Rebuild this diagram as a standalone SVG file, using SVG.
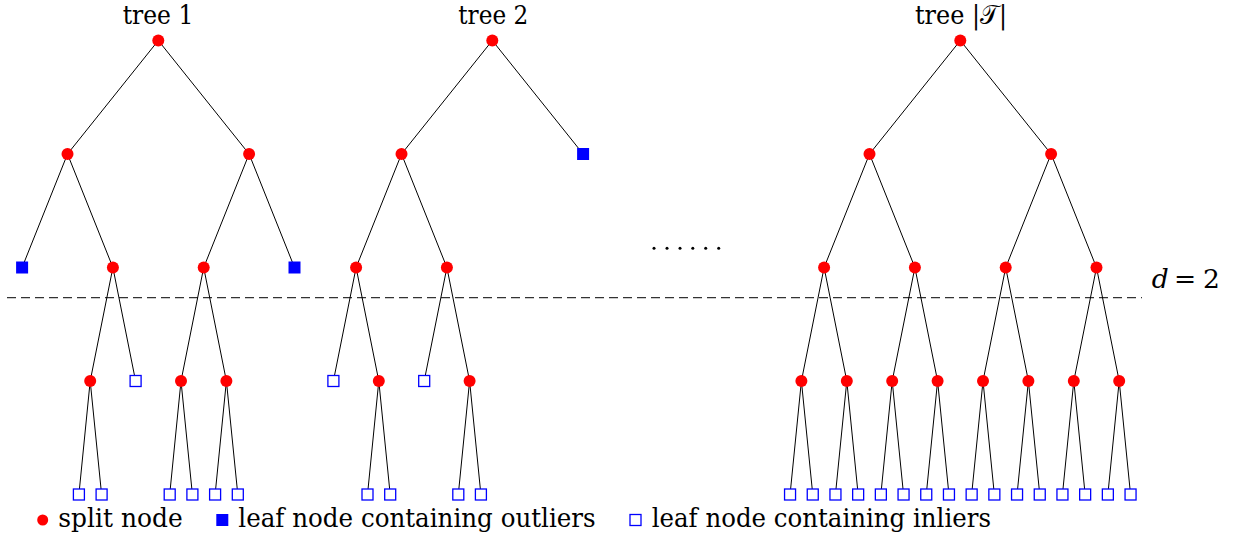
<svg xmlns="http://www.w3.org/2000/svg" width="1234" height="535" viewBox="0 0 1234 535">
<style>
.e{stroke:#000;stroke-width:1;fill:none}
.split{fill:#ff0000}
.out{fill:#0000ff}
.in{fill:#fff;stroke:#0000ff;stroke-width:1.3}
text{font-family:'DejaVu Serif','Liberation Serif',serif;font-size:26.5px;fill:#000}
.dash{stroke:#333;stroke-width:1.2;stroke-dasharray:9 5}
</style>
<rect width="1234" height="535" fill="#fff"/>
<g id="titles">
<text x="122.7" y="24" textLength="70.6" lengthAdjust="spacingAndGlyphs">tree 1</text>
<text x="458.3" y="24" textLength="70" lengthAdjust="spacingAndGlyphs">tree 2</text>
<text x="915" y="24" textLength="92" lengthAdjust="spacingAndGlyphs">tree |𝒯|</text>
</g>
<line id="depth-line" class="dash" x1="7" y1="297.7" x2="1142" y2="297.7"/>
<text id="depth-label" y="288.3"><tspan x="1151.7" font-style="italic">d</tspan><tspan x="1174">=</tspan><tspan x="1203">2</tspan></text>
<g id="ellipsis" fill="#000">
<circle cx="654" cy="248.3" r="1.5"/><circle cx="667" cy="248.3" r="1.5"/><circle cx="680" cy="248.3" r="1.5"/><circle cx="692.8" cy="248.3" r="1.5"/><circle cx="705.7" cy="248.3" r="1.5"/><circle cx="718.7" cy="248.3" r="1.5"/>
</g>
<g id="connectors">
<line class="e" x1="158.3" y1="40.5" x2="67.5" y2="154"/>
<line class="e" x1="158.3" y1="40.5" x2="249.1" y2="154"/>
<line class="e" x1="67.5" y1="154" x2="22.1" y2="267.5"/>
<line class="e" x1="67.5" y1="154" x2="112.9" y2="267.5"/>
<line class="e" x1="249.1" y1="154" x2="203.7" y2="267.5"/>
<line class="e" x1="249.1" y1="154" x2="294.5" y2="267.5"/>
<line class="e" x1="112.9" y1="267.5" x2="90.2" y2="381"/>
<line class="e" x1="112.9" y1="267.5" x2="135.6" y2="381"/>
<line class="e" x1="203.7" y1="267.5" x2="181" y2="381"/>
<line class="e" x1="203.7" y1="267.5" x2="226.4" y2="381"/>
<line class="e" x1="90.2" y1="381" x2="78.9" y2="494.5"/>
<line class="e" x1="90.2" y1="381" x2="101.6" y2="494.5"/>
<line class="e" x1="181" y1="381" x2="169.7" y2="494.5"/>
<line class="e" x1="181" y1="381" x2="192.4" y2="494.5"/>
<line class="e" x1="226.4" y1="381" x2="215.1" y2="494.5"/>
<line class="e" x1="226.4" y1="381" x2="237.8" y2="494.5"/>
<line class="e" x1="492.3" y1="40.5" x2="401.5" y2="154"/>
<line class="e" x1="492.3" y1="40.5" x2="583.1" y2="154"/>
<line class="e" x1="401.5" y1="154" x2="356.1" y2="267.5"/>
<line class="e" x1="401.5" y1="154" x2="446.9" y2="267.5"/>
<line class="e" x1="356.1" y1="267.5" x2="333.4" y2="381"/>
<line class="e" x1="356.1" y1="267.5" x2="378.8" y2="381"/>
<line class="e" x1="446.9" y1="267.5" x2="424.2" y2="381"/>
<line class="e" x1="446.9" y1="267.5" x2="469.6" y2="381"/>
<line class="e" x1="378.8" y1="381" x2="367.5" y2="494.5"/>
<line class="e" x1="378.8" y1="381" x2="390.2" y2="494.5"/>
<line class="e" x1="469.6" y1="381" x2="458.3" y2="494.5"/>
<line class="e" x1="469.6" y1="381" x2="480.9" y2="494.5"/>
<line class="e" x1="960.3" y1="40.5" x2="869.5" y2="154"/>
<line class="e" x1="960.3" y1="40.5" x2="1051.1" y2="154"/>
<line class="e" x1="869.5" y1="154" x2="824.1" y2="267.5"/>
<line class="e" x1="869.5" y1="154" x2="914.9" y2="267.5"/>
<line class="e" x1="1051.1" y1="154" x2="1005.7" y2="267.5"/>
<line class="e" x1="1051.1" y1="154" x2="1096.5" y2="267.5"/>
<line class="e" x1="824.1" y1="267.5" x2="801.4" y2="381"/>
<line class="e" x1="824.1" y1="267.5" x2="846.8" y2="381"/>
<line class="e" x1="914.9" y1="267.5" x2="892.2" y2="381"/>
<line class="e" x1="914.9" y1="267.5" x2="937.6" y2="381"/>
<line class="e" x1="1005.7" y1="267.5" x2="983" y2="381"/>
<line class="e" x1="1005.7" y1="267.5" x2="1028.4" y2="381"/>
<line class="e" x1="1096.5" y1="267.5" x2="1073.8" y2="381"/>
<line class="e" x1="1096.5" y1="267.5" x2="1119.2" y2="381"/>
<line class="e" x1="801.4" y1="381" x2="790.05" y2="494.5"/>
<line class="e" x1="801.4" y1="381" x2="812.75" y2="494.5"/>
<line class="e" x1="846.8" y1="381" x2="835.45" y2="494.5"/>
<line class="e" x1="846.8" y1="381" x2="858.15" y2="494.5"/>
<line class="e" x1="892.2" y1="381" x2="880.85" y2="494.5"/>
<line class="e" x1="892.2" y1="381" x2="903.55" y2="494.5"/>
<line class="e" x1="937.6" y1="381" x2="926.25" y2="494.5"/>
<line class="e" x1="937.6" y1="381" x2="948.95" y2="494.5"/>
<line class="e" x1="983" y1="381" x2="971.65" y2="494.5"/>
<line class="e" x1="983" y1="381" x2="994.35" y2="494.5"/>
<line class="e" x1="1028.4" y1="381" x2="1017.05" y2="494.5"/>
<line class="e" x1="1028.4" y1="381" x2="1039.75" y2="494.5"/>
<line class="e" x1="1073.8" y1="381" x2="1062.45" y2="494.5"/>
<line class="e" x1="1073.8" y1="381" x2="1085.15" y2="494.5"/>
<line class="e" x1="1119.2" y1="381" x2="1107.85" y2="494.5"/>
<line class="e" x1="1119.2" y1="381" x2="1130.55" y2="494.5"/>
</g>
<g id="t1-root"><circle class="split" cx="158.3" cy="40.5" r="6"/></g>
<g id="t1-L"><circle class="split" cx="67.5" cy="154" r="6"/></g>
<g id="t1-R"><circle class="split" cx="249.1" cy="154" r="6"/></g>
<g id="t1-LL"><rect class="out" x="16.1" y="261.5" width="12" height="12"/></g>
<g id="t1-LR"><circle class="split" cx="112.9" cy="267.5" r="6"/></g>
<g id="t1-RL"><circle class="split" cx="203.7" cy="267.5" r="6"/></g>
<g id="t1-RR"><rect class="out" x="288.5" y="261.5" width="12" height="12"/></g>
<g id="t1-LRL"><circle class="split" cx="90.2" cy="381" r="6"/></g>
<g id="t1-LRR"><rect class="in" x="130.1" y="375.5" width="11" height="11"/></g>
<g id="t1-RLL"><circle class="split" cx="181" cy="381" r="6"/></g>
<g id="t1-RLR"><circle class="split" cx="226.4" cy="381" r="6"/></g>
<g id="t1-LRLL"><rect class="in" x="73.4" y="489" width="11" height="11"/></g>
<g id="t1-LRLR"><rect class="in" x="96.1" y="489" width="11" height="11"/></g>
<g id="t1-RLLL"><rect class="in" x="164.2" y="489" width="11" height="11"/></g>
<g id="t1-RLLR"><rect class="in" x="186.9" y="489" width="11" height="11"/></g>
<g id="t1-RLRL"><rect class="in" x="209.6" y="489" width="11" height="11"/></g>
<g id="t1-RLRR"><rect class="in" x="232.3" y="489" width="11" height="11"/></g>
<g id="t2-root"><circle class="split" cx="492.3" cy="40.5" r="6"/></g>
<g id="t2-L"><circle class="split" cx="401.5" cy="154" r="6"/></g>
<g id="t2-R"><rect class="out" x="577.1" y="148" width="12" height="12"/></g>
<g id="t2-LL"><circle class="split" cx="356.1" cy="267.5" r="6"/></g>
<g id="t2-LR"><circle class="split" cx="446.9" cy="267.5" r="6"/></g>
<g id="t2-LLL"><rect class="in" x="327.9" y="375.5" width="11" height="11"/></g>
<g id="t2-LLR"><circle class="split" cx="378.8" cy="381" r="6"/></g>
<g id="t2-LRL"><rect class="in" x="418.7" y="375.5" width="11" height="11"/></g>
<g id="t2-LRR"><circle class="split" cx="469.6" cy="381" r="6"/></g>
<g id="t2-LLRL"><rect class="in" x="362" y="489" width="11" height="11"/></g>
<g id="t2-LLRR"><rect class="in" x="384.7" y="489" width="11" height="11"/></g>
<g id="t2-LRRL"><rect class="in" x="452.8" y="489" width="11" height="11"/></g>
<g id="t2-LRRR"><rect class="in" x="475.4" y="489" width="11" height="11"/></g>
<g id="t3-root"><circle class="split" cx="960.3" cy="40.5" r="6"/></g>
<g id="t3-L"><circle class="split" cx="869.5" cy="154" r="6"/></g>
<g id="t3-R"><circle class="split" cx="1051.1" cy="154" r="6"/></g>
<g id="t3-LL"><circle class="split" cx="824.1" cy="267.5" r="6"/></g>
<g id="t3-LR"><circle class="split" cx="914.9" cy="267.5" r="6"/></g>
<g id="t3-RL"><circle class="split" cx="1005.7" cy="267.5" r="6"/></g>
<g id="t3-RR"><circle class="split" cx="1096.5" cy="267.5" r="6"/></g>
<g id="t3-LLL"><circle class="split" cx="801.4" cy="381" r="6"/></g>
<g id="t3-LLR"><circle class="split" cx="846.8" cy="381" r="6"/></g>
<g id="t3-LRL"><circle class="split" cx="892.2" cy="381" r="6"/></g>
<g id="t3-LRR"><circle class="split" cx="937.6" cy="381" r="6"/></g>
<g id="t3-RLL"><circle class="split" cx="983" cy="381" r="6"/></g>
<g id="t3-RLR"><circle class="split" cx="1028.4" cy="381" r="6"/></g>
<g id="t3-RRL"><circle class="split" cx="1073.8" cy="381" r="6"/></g>
<g id="t3-RRR"><circle class="split" cx="1119.2" cy="381" r="6"/></g>
<g id="t3-leaf1"><rect class="in" x="784.55" y="489" width="11" height="11"/></g>
<g id="t3-leaf2"><rect class="in" x="807.25" y="489" width="11" height="11"/></g>
<g id="t3-leaf3"><rect class="in" x="829.95" y="489" width="11" height="11"/></g>
<g id="t3-leaf4"><rect class="in" x="852.65" y="489" width="11" height="11"/></g>
<g id="t3-leaf5"><rect class="in" x="875.35" y="489" width="11" height="11"/></g>
<g id="t3-leaf6"><rect class="in" x="898.05" y="489" width="11" height="11"/></g>
<g id="t3-leaf7"><rect class="in" x="920.75" y="489" width="11" height="11"/></g>
<g id="t3-leaf8"><rect class="in" x="943.45" y="489" width="11" height="11"/></g>
<g id="t3-leaf9"><rect class="in" x="966.15" y="489" width="11" height="11"/></g>
<g id="t3-leaf10"><rect class="in" x="988.85" y="489" width="11" height="11"/></g>
<g id="t3-leaf11"><rect class="in" x="1011.55" y="489" width="11" height="11"/></g>
<g id="t3-leaf12"><rect class="in" x="1034.25" y="489" width="11" height="11"/></g>
<g id="t3-leaf13"><rect class="in" x="1056.95" y="489" width="11" height="11"/></g>
<g id="t3-leaf14"><rect class="in" x="1079.65" y="489" width="11" height="11"/></g>
<g id="t3-leaf15"><rect class="in" x="1102.35" y="489" width="11" height="11"/></g>
<g id="t3-leaf16"><rect class="in" x="1125.05" y="489" width="11" height="11"/></g>
<g id="legend">
<circle class="split" cx="42.7" cy="520" r="5.5"/>
<text x="58.3" y="526.7" textLength="124.4" lengthAdjust="spacingAndGlyphs">split node</text>
<rect class="out" x="216.3" y="514" width="12" height="12"/>
<text x="238.3" y="526.7" textLength="357.4" lengthAdjust="spacingAndGlyphs">leaf node containing outliers</text>
<rect class="in" x="630" y="514.5" width="11" height="11"/>
<text x="651.7" y="526.7" textLength="339.3" lengthAdjust="spacingAndGlyphs">leaf node containing inliers</text>
</g>
</svg>
